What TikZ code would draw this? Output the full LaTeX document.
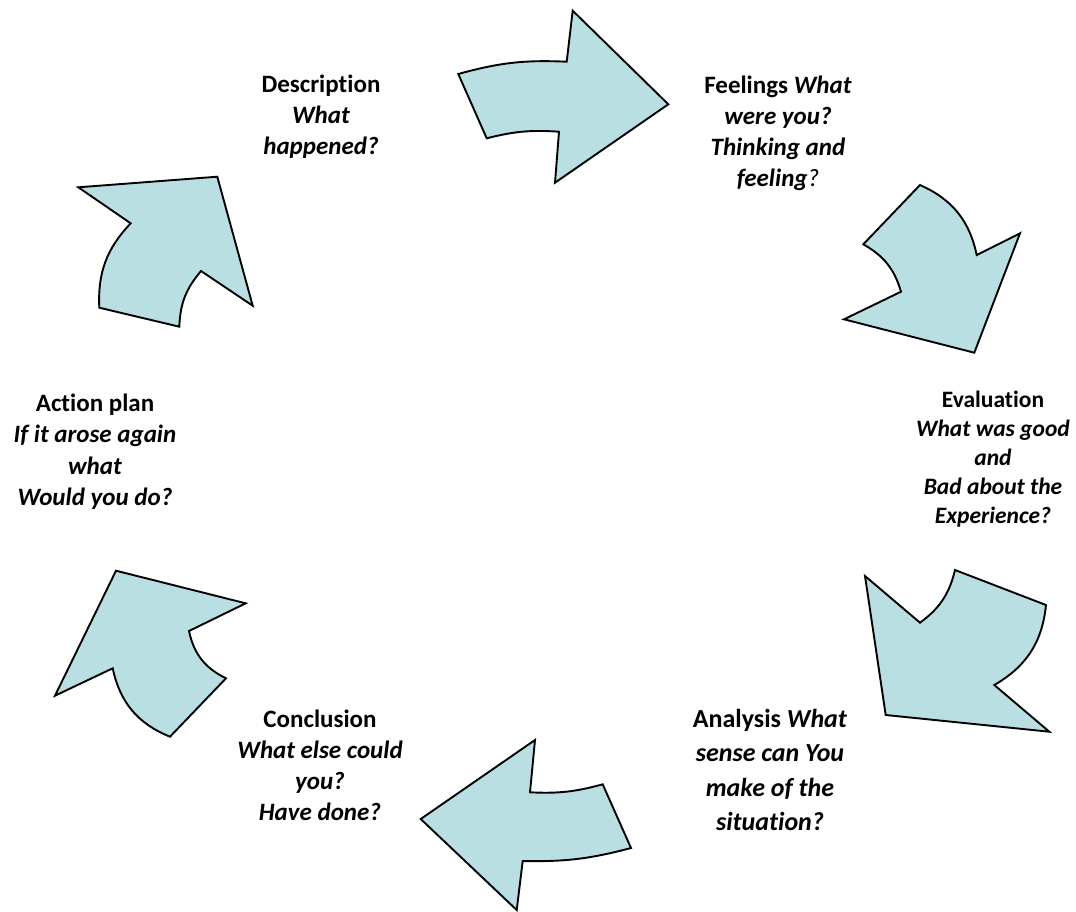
\documentclass[tikz,border=0pt]{standalone}
\usepackage{fontspec}
\setmainfont{Carlito}[Ligatures={NoCommon,NoContextual}]
\definecolor{arrowfill}{RGB}{185,223,227}
\newcommand{\lblock}[1]{\begin{tabular}[t]{@{}c@{}}#1\end{tabular}}
\tikzset{
  cyclearrow/.style={fill=arrowfill, draw=black, line width=1.9pt, line join=miter},
  lbl/.style={anchor=base, inner sep=0pt, font=\fontsize{25}{31}\selectfont}
}
\begin{document}
\begin{tikzpicture}[x=1pt,y=-1pt]
\useasboundingbox (0,0) rectangle (1076,911);
% arrows
\draw[cyclearrow] (458.3,74) to[bend left=9] (566.7,61.7) -- (572.7,10.7) -- (668.3,104.3) -- (555,182.7) -- (559,131.7) to[bend right=9] (486.7,138.3) -- cycle;
\draw[cyclearrow] (920,185) to[bend left=27] (976.7,255) -- (1020,233.3) -- (974.3,352.7) -- (844,319.3) -- (901,291.7) to[bend right=22] (863.3,244.3) -- cycle;
\draw[cyclearrow] (865,576) -- (920,622.7) to[bend right=20] (955,570) -- (1046,605) to[bend left=27] (994.3,685) -- (1049.3,731.7) -- (885.7,715) -- cycle;
\draw[cyclearrow] (535,740) -- (530,792.3) to[bend right=9] (602.7,784.3) -- (631,848) to[bend left=8] (522.7,861) -- (516.7,910) -- (420.7,819) -- cycle;
\draw[cyclearrow] (116,570.7) -- (245.7,603.3) -- (189,631) to[bend right=26] (226,678.3) -- (170,736.7) to[bend left=28] (112.7,668.3) -- (55,695.7) -- cycle;
\draw[cyclearrow] (78.3,187.3) -- (217.3,176.7) -- (252.7,305.7) -- (201,271) to[bend right=19] (179.3,326.7) -- (99.3,307.7) to[bend left=23] (130.7,223.3) -- cycle;
% labels
\node[lbl] (desc) at (321,92) {\lblock{\textbf{Description}\\ \textbf{\textit{What}}\\ \textbf{\textit{happened?}}}};
\node[lbl] (feel) at (778,93) {\lblock{\textbf{Feelings \textit{What}}\\ \textbf{\textit{were you?}}\\ \textbf{\textit{Thinking and}}\\ \textbf{\textit{feeling}}\textit{?}}};
\node[lbl, font=\fontsize{23.5}{29}\selectfont] (eval) at (993,407) {\lblock{\textbf{Evaluation}\\ \textbf{\textit{What was good}}\\ \textbf{\textit{and}}\\ \textbf{\textit{Bad about the}}\\ \textbf{\textit{Experience?}}}};
\node[lbl, font=\fontsize{26}{34.5}\selectfont] (anal) at (770,727) {\lblock{\textbf{Analysis \textit{What}}\\ \textbf{\textit{sense can You}}\\ \textbf{\textit{make of the}}\\ \textbf{\textit{situation?}}}};
\node[lbl] (conc) at (320,727) {\lblock{\textbf{Conclusion}\\ \textbf{\textit{What else could}}\\ \textbf{\textit{you?}}\\ \textbf{\textit{Have done?}}}};
\node[lbl, font=\fontsize{25}{31.5}\selectfont] (act) at (95,411) {\lblock{\textbf{Action plan}\\ \textbf{\textit{If it arose again}}\\ \textbf{\textit{what}}\\ \textbf{\textit{Would you do?}}}};
\end{tikzpicture}
\end{document}
